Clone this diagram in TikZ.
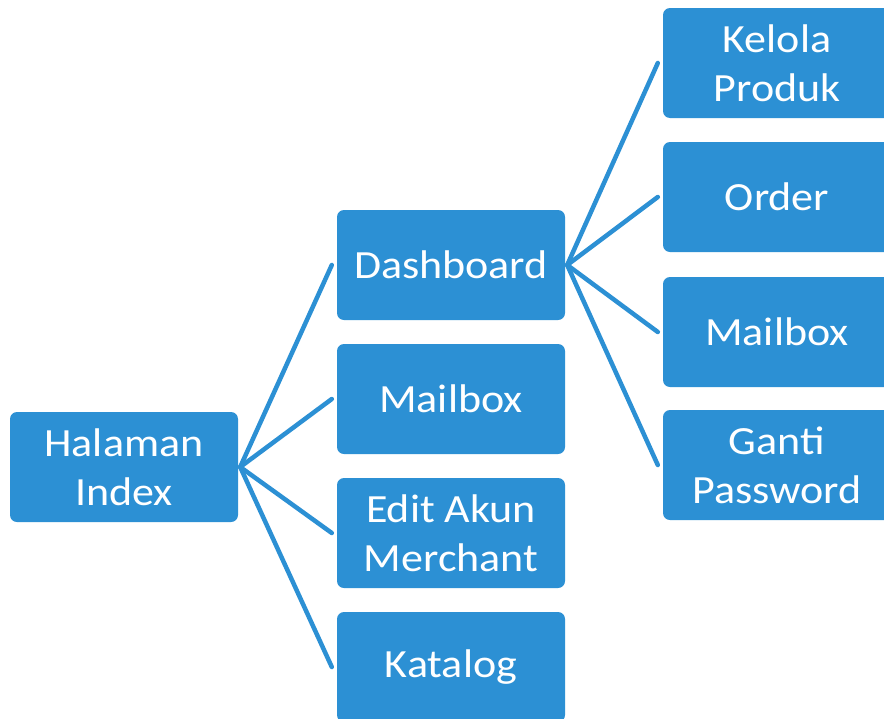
\documentclass[tikz,border=0pt]{standalone}
\usepackage{fontspec}
\setmainfont[FakeStretch=1.1]{Carlito}
\begin{document}
\definecolor{boxblue}{RGB}{44,144,212}
\begin{tikzpicture}[x=1pt,y=-1pt,
  menubox/.style={rectangle, rounded corners=7pt, fill=boxblue, text=white,
    minimum width=228pt, minimum height=110pt, inner sep=0pt, align=center,
    font=\fontsize{40}{49}\selectfont},
  link/.style={draw=boxblue, line width=4.5pt, line cap=round}]
\useasboundingbox (0,0) rectangle (884,718);
\clip (0,0) rectangle (884,718);
\fill[white] (0,0) rectangle (884,718);

% root page
\node[menubox] (idx) at (124,467) {Halaman\\Index};

% second level
\node[menubox] (dash)  at (451,265) {Dashboard};
\node[menubox] (mail1) at (451,399) {Mailbox};
\node[menubox] (edit)  at (451,533) {Edit Akun\\Merchant};
\node[menubox] (kat)   at (451,667) {Katalog};

% dashboard sub-menu
\node[menubox] (kelola) at (777,63)  {Kelola\\Produk};
\node[menubox] (order)  at (777,197) {Order};
\node[menubox] (mail2)  at (777,332) {Mailbox};
\node[menubox] (ganti)  at (777,465) {Ganti\\Password};

% connectors
\foreach \c in {dash,mail1,edit,kat}
  \draw[link] ([xshift=2pt]idx.east) -- ([xshift=-5pt]\c.west);
\foreach \c in {kelola,order,mail2,ganti}
  \draw[link] ([xshift=2pt]dash.east) -- ([xshift=-5pt]\c.west);
\end{tikzpicture}
\end{document}
